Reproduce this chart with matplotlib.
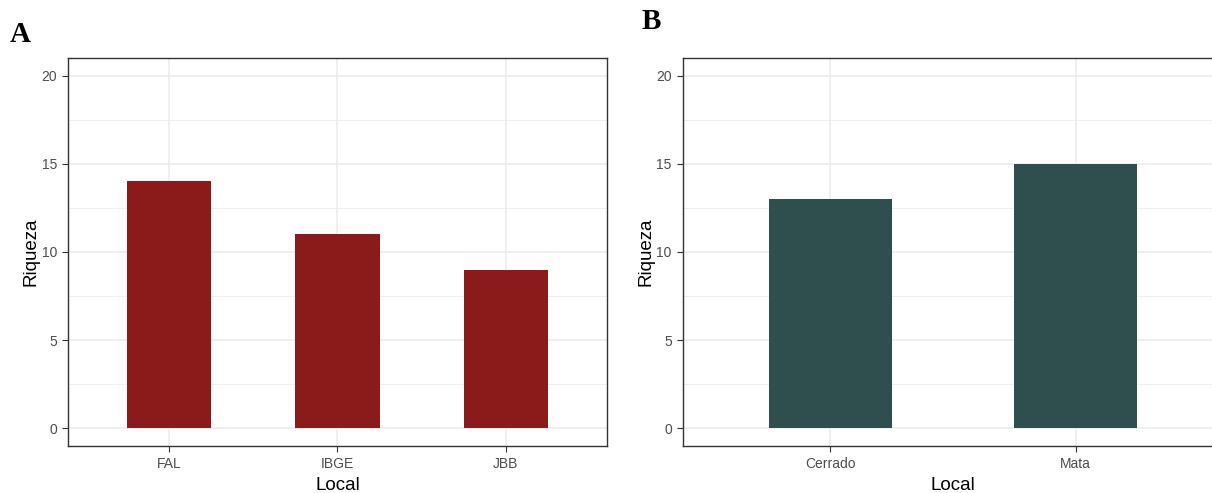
import matplotlib

matplotlib.use("Agg")

import matplotlib.pyplot as plt
from matplotlib.ticker import MultipleLocator

# Species richness per site (panel A) and per vegetation type (panel B)
sites = ["FAL", "IBGE", "JBB"]
site_richness = [14, 11, 9]
habitats = ["Cerrado", "Mata"]
habitat_richness = [13, 15]

plt.rcParams["font.family"] = ["Liberation Sans", "DejaVu Sans"]

GRID = "#EBEBEB"
BORDER = "#333333"
TICK_TEXT = "#4D4D4D"


def style_panel(ax, categories, values, color):
    xs = range(len(categories))
    ax.bar(xs, values, width=0.5, color=color, zorder=2)
    ax.set_xlim(-0.6, len(categories) - 0.4)
    ax.set_ylim(-1.0, 21.0)
    ax.set_xticks(list(xs))
    ax.set_xticklabels(categories)
    ax.yaxis.set_major_locator(MultipleLocator(5))
    ax.yaxis.set_minor_locator(MultipleLocator(2.5))
    ax.grid(True, which="major", color=GRID, linewidth=1.1, zorder=0)
    ax.grid(True, which="minor", axis="y", color=GRID, linewidth=0.55, zorder=0)
    ax.set_axisbelow(True)
    for spine in ax.spines.values():
        spine.set_color(BORDER)
        spine.set_linewidth(1.0)
    ax.tick_params(which="major", length=4, width=0.8, color=BORDER,
                   labelcolor=TICK_TEXT, labelsize=10, pad=4)
    ax.tick_params(which="minor", length=0)
    ax.set_xlabel("Local", fontsize=13.5, labelpad=4.5)
    ax.set_ylabel("Riqueza", fontsize=13.5, labelpad=1.5)


fig = plt.figure(figsize=(12.12, 4.93), dpi=100)
ax_a = fig.add_axes([0.0561, 0.0953, 0.4447, 0.7871])
ax_b = fig.add_axes([0.5635, 0.0953, 0.4455, 0.7871])

style_panel(ax_a, sites, site_richness, "#8B1A1A")
style_panel(ax_b, habitats, habitat_richness, "#2F4F4F")

fig.text(0.008, 0.930, "A", fontsize=21, fontweight="bold",
         family=["Liberation Serif", "DejaVu Serif"], va="center")
fig.text(0.529, 0.957, "B", fontsize=21, fontweight="bold",
         family=["Liberation Serif", "DejaVu Serif"], va="center")

fig.savefig("out.png", dpi=100)
